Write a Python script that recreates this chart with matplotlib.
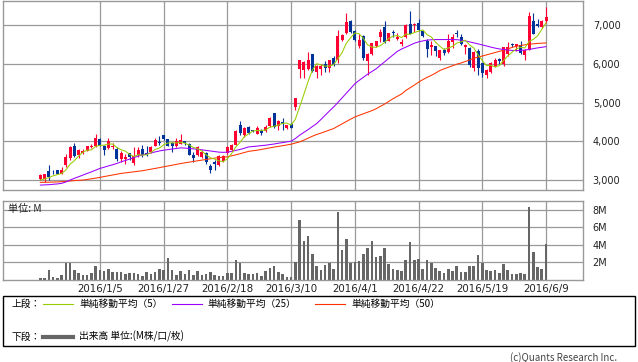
import numpy as np
import matplotlib
matplotlib.use('Agg')
import matplotlib.pyplot as plt
from matplotlib.lines import Line2D
from matplotlib.patches import Rectangle

plt.rcParams['font.family'] = ['Noto Sans CJK JP', 'DejaVu Sans']

# daily candles, 2015/12/11 - 2016/6/9
opens = [3020, 3030, 3240, 3215, 3255, 3155, 3390, 3560, 3870, 3640,
         3690, 3750, 3845, 3875, 4050, 3890, 3830, 3845, 3790, 3545,
         3540, 3685, 3450, 3645, 3800, 3710, 3715, 3885, 3970, 4150,
         4050, 3960, 3880, 3940, 4000, 3940, 3640, 3640, 3600, 3700,
         3360, 3470, 3385, 3500, 3690, 3770, 3915, 4430, 4155, 4370,
         4290, 4200, 4260, 4265, 4390, 4730, 4390, 4500, 4335, 4455,
         4885, 5870, 5830, 5870, 6255, 5780, 5870, 6000, 5885, 6150,
         6085, 6615, 6795, 7110, 6850, 6470, 6725, 6065, 6240, 6450,
         6680, 6955, 6600, 6815, 6640, 6510, 6680, 7025, 7000, 7065,
         6855, 6595, 6425, 6450, 6145, 6355, 6300, 6555, 6795, 6700,
         6425, 6410, 5895, 6340, 6015, 5700, 5780, 5930, 6125, 6000,
         6240, 6510, 6470, 6495, 6230, 6355, 7110, 7025, 6940, 7110]
highs = [3150, 3160, 3390, 3260, 3265, 3330, 3670, 3870, 3950, 3790,
         3800, 3880, 3940, 4200, 4090, 3900, 4080, 3960, 3850, 3740,
         3660, 3710, 3840, 3840, 3900, 3880, 3870, 4080, 4140, 4170,
         4060, 3970, 4080, 4200, 4020, 3960, 3720, 3880, 3770, 3720,
         3420, 3520, 3650, 3650, 3880, 3930, 4280, 4520, 4360, 4390,
         4300, 4390, 4320, 4410, 4620, 4740, 4560, 4610, 4420, 4470,
         5120, 6110, 6060, 6300, 6260, 5960, 6000, 6080, 6110, 6210,
         6870, 6760, 7300, 7130, 6870, 6780, 6740, 6270, 6540, 6600,
         6900, 7100, 6790, 6870, 6790, 6640, 7020, 7350, 7060, 7150,
         6880, 6640, 6580, 6450, 6360, 6420, 6770, 6770, 6880, 6770,
         6515, 6430, 6340, 6380, 6020, 5870, 6040, 6150, 6150, 6430,
         6555, 6540, 6515, 6580, 6380, 7340, 7300, 7150, 7125, 7470]
lows = [3010, 2960, 3000, 3150, 3150, 3150, 3340, 3530, 3590, 3580,
        3670, 3740, 3830, 3860, 3880, 3650, 3810, 3790, 3500, 3470,
        3420, 3520, 3400, 3600, 3600, 3620, 3700, 3870, 3900, 4040,
        3870, 3730, 3840, 3930, 3900, 3640, 3470, 3630, 3560, 3420,
        3170, 3250, 3360, 3470, 3660, 3750, 3900, 4150, 4120, 4200,
        4240, 4180, 4170, 4240, 4380, 4350, 4300, 4300, 4320, 4330,
        4800, 5630, 5640, 5840, 5800, 5640, 5700, 5790, 5790, 5930,
        6015, 6600, 6760, 6790, 6590, 6420, 6085, 5700, 6230, 6430,
        6570, 6530, 6590, 6700, 6620, 6460, 6670, 6760, 6820, 6840,
        6690, 6185, 6230, 6190, 6110, 6220, 6280, 6400, 6700, 6490,
        6250, 5920, 5810, 5700, 5655, 5640, 5760, 5910, 5990, 5950,
        6210, 6430, 6340, 6250, 6110, 6350, 6760, 6940, 6920, 7050]
closes = [3130, 3150, 3070, 3200, 3155, 3255, 3600, 3855, 3620, 3770,
          3740, 3870, 3880, 4090, 3890, 3770, 4010, 3890, 3535, 3700,
          3600, 3585, 3615, 3770, 3645, 3645, 3855, 4030, 3950, 4060,
          3880, 3880, 4010, 4040, 3945, 3645, 3560, 3855, 3725, 3470,
          3255, 3410, 3615, 3615, 3855, 3915, 4270, 4215, 4335, 4225,
          4270, 4355, 4225, 4370, 4610, 4370, 4520, 4440, 4410, 4355,
          5115, 6100, 6055, 6085, 5810, 5955, 5955, 5885, 6110, 5980,
          6725, 6740, 7090, 6810, 6615, 6615, 6150, 6255, 6525, 6580,
          6830, 6555, 6785, 6800, 6680, 6555, 7005, 6770, 7015, 6870,
          6705, 6385, 6490, 6340, 6355, 6270, 6580, 6700, 6765, 6510,
          6490, 5980, 6295, 5895, 5755, 5845, 6015, 6085, 6065, 6425,
          6425, 6490, 6510, 6270, 6355, 7240, 6770, 6965, 7110, 7195]

# volume, million shares
volume = [0.26, 0.26, 1.17, 0.38, 0.26, 0.60, 1.90, 1.90, 1.17, 0.79,
          0.60, 0.60, 0.79, 1.64, 1.17, 0.98, 1.22, 0.88, 0.95, 0.88,
          0.69, 0.76, 0.76, 0.69, 0.46, 0.91, 0.69, 0.95, 1.26, 1.14,
          2.51, 1.14, 0.57, 1.03, 0.72, 1.14, 0.57, 1.03, 0.57, 0.69,
          0.95, 0.57, 0.50, 0.50, 0.84, 0.76, 2.29, 1.90, 0.76, 0.69,
          0.69, 0.80, 0.46, 1.07, 1.41, 1.60, 0.95, 0.69, 0.38, 0.38,
          2.06, 6.86, 4.50, 5.03, 2.97, 1.64, 1.14, 1.71, 1.90, 1.20,
          7.70, 3.43, 4.70, 1.95, 2.08, 2.20, 2.97, 3.65, 4.48, 2.67,
          2.76, 3.64, 1.85, 1.26, 1.14, 1.05, 2.30, 4.32, 2.29, 2.40,
          1.28, 2.29, 1.90, 1.37, 1.07, 0.84, 1.26, 1.05, 1.58, 0.91,
          0.91, 1.62, 1.62, 2.86, 1.90, 1.14, 1.07, 1.18, 0.80, 1.83,
          1.14, 0.69, 0.69, 0.78, 0.67, 8.35, 3.18, 1.50, 1.26, 4.11]

ma5 = [3000, 3030, 3060, 3110, 3140, 3170, 3260, 3410, 3500, 3620,
       3717, 3771, 3776, 3870, 3894, 3900, 3928, 3930, 3839, 3781,
       3747, 3662, 3607, 3654, 3643, 3652, 3706, 3789, 3825, 3908,
       3955, 3960, 3956, 3974, 3951, 3904, 3840, 3809, 3746, 3651,
       3573, 3543, 3495, 3473, 3550, 3682, 3854, 3974, 4118, 4192,
       4264, 4280, 4282, 4289, 4366, 4386, 4419, 4462, 4470, 4419,
       4568, 4884, 5207, 5542, 5833, 6001, 5972, 5938, 5943, 5977,
       6131, 6288, 6529, 6669, 6796, 6774, 6656, 6489, 6432, 6425,
       6468, 6549, 6655, 6710, 6730, 6675, 6765, 6762, 6805, 6843,
       6873, 6749, 6693, 6558, 6455, 6368, 6407, 6449, 6534, 6565,
       6609, 6489, 6408, 6234, 6083, 5954, 5961, 5919, 5953, 6087,
       6203, 6298, 6383, 6424, 6410, 6577, 6629, 6720, 6888, 7056]
ma25 = [2870, 2875, 2880, 2890, 2900, 2915, 2950, 3000, 3045, 3085,
        3128, 3170, 3210, 3255, 3300, 3330, 3365, 3395, 3428, 3470,
        3505, 3540, 3580, 3617, 3645, 3675, 3700, 3725, 3750, 3770,
        3785, 3800, 3815, 3830, 3825, 3815, 3805, 3796, 3780, 3765,
        3750, 3735, 3720, 3715, 3720, 3740, 3765, 3790, 3820, 3855,
        3865, 3875, 3888, 3899, 3915, 3930, 3950, 3965, 3985, 4002,
        4070, 4156, 4230, 4300, 4380, 4456, 4560, 4670, 4780, 4883,
        5000, 5120, 5240, 5360, 5483, 5570, 5650, 5730, 5800, 5869,
        5960, 6050, 6140, 6230, 6320, 6380, 6430, 6480, 6530, 6565,
        6590, 6610, 6620, 6625, 6625, 6625, 6625, 6625, 6622, 6610,
        6590, 6565, 6540, 6515, 6486, 6460, 6430, 6405, 6383, 6370,
        6355, 6345, 6340, 6345, 6355, 6370, 6390, 6410, 6425, 6443]
ma50 = [2940, 2942, 2945, 2948, 2952, 2958, 2965, 2975, 2985, 2993,
        3000, 3015, 3032, 3050, 3068, 3090, 3110, 3130, 3150, 3171,
        3185, 3198, 3212, 3226, 3240, 3260, 3280, 3300, 3320, 3342,
        3362, 3383, 3404, 3425, 3445, 3462, 3480, 3497, 3514, 3531,
        3548, 3565, 3580, 3590, 3600, 3625, 3650, 3680, 3710, 3740,
        3755, 3770, 3790, 3810, 3830, 3850, 3868, 3886, 3905, 3925,
        3955, 3984, 4030, 4080, 4130, 4175, 4210, 4250, 4290, 4327,
        4390, 4450, 4510, 4570, 4627, 4670, 4710, 4750, 4790, 4840,
        4900, 4960, 5030, 5099, 5160, 5220, 5312, 5380, 5450, 5525,
        5590, 5650, 5700, 5760, 5826, 5870, 5910, 5950, 5990, 6020,
        6060, 6100, 6140, 6175, 6200, 6230, 6260, 6290, 6320, 6350,
        6380, 6424, 6450, 6470, 6490, 6505, 6515, 6525, 6532, 6537]

tick_idx = [14, 29, 44, 59, 74, 89, 104, 119]
tick_labels = ['2016/1/5', '2016/1/27', '2016/2/18', '2016/3/10',
               '2016/4/1', '2016/4/22', '2016/5/19', '2016/6/9']
price_ticks = [3000, 4000, 5000, 6000, 7000]
price_labels = ['3,000', '4,000', '5,000', '6,000', '7,000']
vol_ticks = [2, 4, 6, 8]
vol_labels = ['2M', '4M', '6M', '8M']

RED = '#ff0033'
BLUE = '#003399'
GRID = '#999999'

W, H = 638, 362
fig = plt.figure(figsize=(W / 100, H / 100), dpi=100)


def px_box(x0, y0, x1, y1):
    return [x0 / W, 1 - y1 / H, (x1 - x0) / W, (y1 - y0) / H]


def fx(x):
    return x / W


def fy(y):
    return 1 - y / H


def style(a):
    for s in a.spines.values():
        s.set_color(GRID)
        s.set_linewidth(1)
    a.set_axisbelow(True)
    a.grid(True, color=GRID, lw=0.9)
    a.yaxis.tick_right()
    a.tick_params(length=0, colors='#222222')
    a.tick_params(axis='y', pad=7)
    a.set_xlim(-8.8, 127.7)
    a.set_xticks(tick_idx)


# price panel
ax = fig.add_axes(px_box(3, 1, 583, 190))
style(ax)
x = np.arange(len(closes))
o = np.array(opens)
c = np.array(closes)
colors = np.where(c >= o, RED, BLUE)
ax.vlines(x, lows, highs, colors=colors, lw=0.8, zorder=2)
ax.bar(x, np.maximum(np.abs(c - o), 14), bottom=np.minimum(o, c), width=0.72,
       color=colors, linewidth=0, zorder=3)
ax.plot(x, ma50, color='#ff3300', lw=0.75, zorder=4)
ax.plot(x, ma25, color='#9900ff', lw=0.75, zorder=4)
ax.plot(x, ma5, color='#99cc00', lw=0.75, zorder=4)
ax.set_ylim(2743, 7620)
ax.set_yticks(price_ticks)
ax.set_yticklabels(price_labels, family='DejaVu Sans', fontsize=7)
ax.set_xticklabels([])

# volume panel
axv = fig.add_axes(px_box(3, 201, 583, 280))
style(axv)
axv.bar(x, volume, width=0.62, color='#666666', linewidth=0)
axv.set_ylim(0, 9)
axv.set_yticks(vol_ticks)
axv.set_yticklabels(vol_labels, family='DejaVu Sans', fontsize=7)
axv.set_xticklabels(tick_labels, family='DejaVu Sans', fontsize=7.4)
axv.tick_params(axis='x', pad=3)
axv.text(0.009, 0.905, '単位: M', transform=axv.transAxes, fontsize=7.3,
         ha='left', va='center', color='#222222')

# legend box
fig.add_artist(Rectangle((fx(3), fy(346)), fx(632), (346 - 295.7) / H,
                         transform=fig.transFigure, fill=False,
                         edgecolor='black', lw=1))
ty1, ty2 = fy(303.5), fy(336.7)
fs = 7
fig.text(fx(11), ty1, '上段：', fontsize=fs, va='center')
legend_items = [(43, 79, '#99cc00', '単純移動平均（5）'),
                (172, 207, '#9900ff', '単純移動平均（25）'),
                (315, 351, '#ff3300', '単純移動平均（50）')]
for lx, tx, col, label in legend_items:
    fig.add_artist(Line2D([fx(lx), fx(lx + 30)], [ty1, ty1],
                          transform=fig.transFigure, color=col, lw=0.8))
    fig.text(fx(tx), ty1, label, fontsize=fs, va='center')
fig.text(fx(11), ty2, '下段：', fontsize=fs, va='center')
fig.add_artist(Line2D([fx(43), fx(73)], [ty2, ty2], transform=fig.transFigure,
                      color='#666666', lw=3))
fig.text(fx(79), ty2, '出来高 単位:(M株/口/枚)', fontsize=fs, va='center')

fig.text(fx(617), fy(358), '(c)Quants Research Inc.', fontsize=7,
         ha='right', va='center', color='#444444')

fig.savefig('out.png', dpi=100)
